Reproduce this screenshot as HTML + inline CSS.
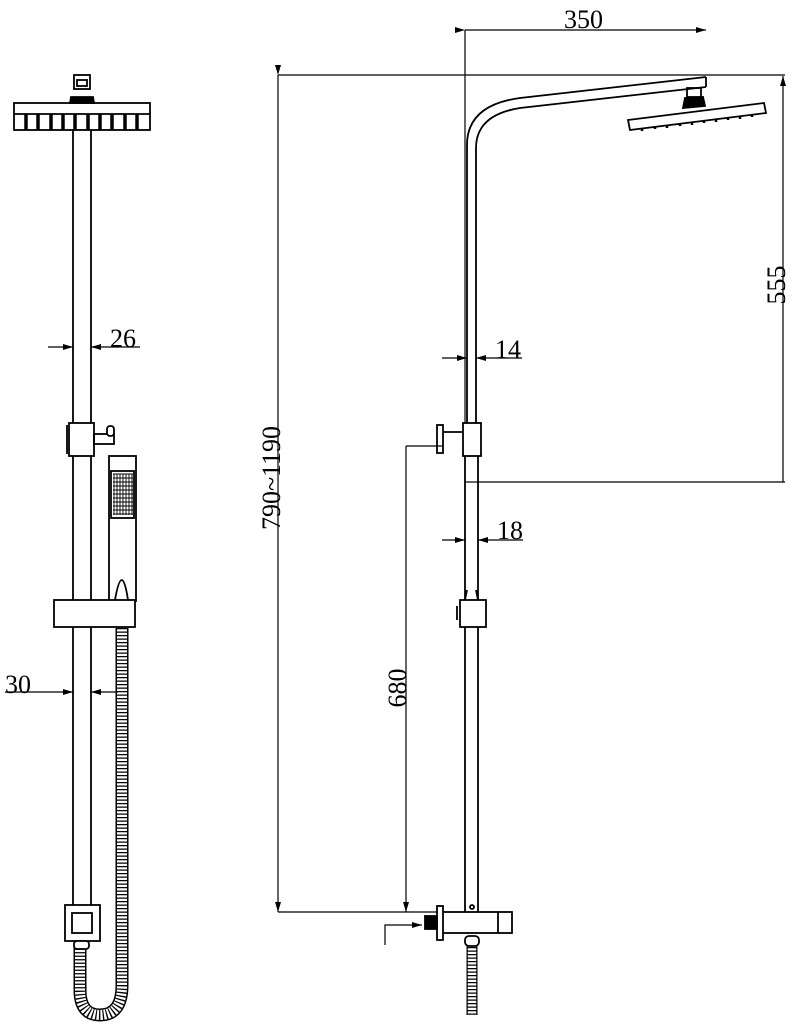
<!DOCTYPE html>
<html><head><style>html,body{margin:0;padding:0;background:#fff}svg{display:block}</style></head>
<body>
<svg width="793" height="1024" viewBox="0 0 793 1024" xmlns="http://www.w3.org/2000/svg" font-family="Liberation Serif, serif">
<defs>
<marker id="a" viewBox="0 0 10 6" refX="10" refY="3" markerWidth="10" markerHeight="6" orient="auto" markerUnits="userSpaceOnUse"><path d="M0,0 L10,3 L0,6z" fill="#000"/></marker>
</defs>
<g fill="none" stroke="#000" stroke-width="1.8">
<!-- LEFT VIEW -->
<rect x="74" y="75" width="16" height="14"/>
<rect x="77" y="80" width="10" height="6"/>
<path d="M70,103 L71,97 L93,97 L94,103z" fill="#000"/>
<rect x="14" y="103" width="136" height="27"/>
<line x1="14" y1="114" x2="150" y2="114"/>
<g stroke-width="3.5">
<line x1="26" y1="114" x2="26" y2="130"/><line x1="38" y1="114" x2="38" y2="130"/><line x1="51" y1="114" x2="51" y2="130"/><line x1="63" y1="114" x2="63" y2="130"/><line x1="75" y1="114" x2="75" y2="130"/><line x1="88" y1="114" x2="88" y2="130"/><line x1="100" y1="114" x2="100" y2="130"/><line x1="112" y1="114" x2="112" y2="130"/><line x1="125" y1="114" x2="125" y2="130"/><line x1="137" y1="114" x2="137" y2="130"/>
</g>
<line x1="73" y1="130" x2="73" y2="905"/><line x1="91" y1="130" x2="91" y2="905"/>
<rect x="69" y="423" width="25" height="33" fill="#fff"/>
<line x1="67" y1="425" x2="67" y2="454"/>
<rect x="94" y="434" width="20" height="10"/>
<rect x="107" y="426" width="7" height="10" rx="3" fill="#fff"/>
<rect x="109" y="456" width="27" height="145" fill="#fff"/>
<rect x="111" y="471" width="23" height="47" fill="#fff"/>
<g stroke-width="0.9">
<line x1="114" y1="474" x2="114" y2="515"/><line x1="117" y1="474" x2="117" y2="515"/><line x1="120" y1="474" x2="120" y2="515"/><line x1="123" y1="474" x2="123" y2="515"/><line x1="126" y1="474" x2="126" y2="515"/><line x1="129" y1="474" x2="129" y2="515"/><line x1="132" y1="474" x2="132" y2="515"/>
<line x1="113" y1="474" x2="133" y2="474"/><line x1="113" y1="478" x2="133" y2="478"/><line x1="113" y1="482" x2="133" y2="482"/><line x1="113" y1="486" x2="133" y2="486"/><line x1="113" y1="490" x2="133" y2="490"/><line x1="113" y1="494" x2="133" y2="494"/><line x1="113" y1="498" x2="133" y2="498"/><line x1="113" y1="502" x2="133" y2="502"/><line x1="113" y1="506" x2="133" y2="506"/><line x1="113" y1="510" x2="133" y2="510"/><line x1="113" y1="514" x2="133" y2="514"/>
</g>
<path d="M115,600 Q122,560 128,600"/>
<rect x="54" y="600" width="81" height="27" fill="#fff"/>
<path d="M122,628 L122,985 Q122,1015 100,1015 Q80,1015 80,990 L80,945" stroke-width="13"/>
<path d="M122,628 L122,985 Q122,1015 100,1015 Q80,1015 80,990 L80,945" stroke="#fff" stroke-width="10"/>
<path d="M122,628 L122,985 Q122,1015 100,1015 Q80,1015 80,990 L80,945" stroke-width="10" stroke-dasharray="1.3 2.2"/>
<rect x="65" y="905" width="35" height="36" fill="#fff"/>
<rect x="72" y="913" width="20" height="20"/>
<rect x="74" y="941" width="15" height="8" rx="3" fill="#fff"/>
<line x1="48" y1="347" x2="73" y2="347" marker-end="url(#a)" stroke-width="1.2"/>
<line x1="140" y1="347" x2="91" y2="347" marker-end="url(#a)" stroke-width="1.2"/>
<line x1="5" y1="692" x2="73" y2="692" marker-end="url(#a)" stroke-width="1.2"/>
<line x1="118" y1="692" x2="91" y2="692" marker-end="url(#a)" stroke-width="1.2"/>

<!-- RIGHT VIEW -->
<g stroke-width="1.2">
<line x1="465" y1="30" x2="465" y2="423"/>
<line x1="465" y1="30" x2="706" y2="30" marker-start="url(#a)" marker-end="url(#a)"/>
<line x1="278" y1="75" x2="785" y2="75"/>
<line x1="783" y1="482" x2="783" y2="76" marker-end="url(#a)"/>
<line x1="478" y1="482" x2="785" y2="482"/>
<line x1="278" y1="75" x2="278" y2="912" marker-start="url(#a)" marker-end="url(#a)"/>
<line x1="278" y1="912" x2="437" y2="912"/>
<line x1="406" y1="446" x2="406" y2="912" marker-end="url(#a)"/>
<line x1="406" y1="446" x2="443" y2="446"/>
<line x1="442" y1="358" x2="467" y2="358" marker-end="url(#a)"/>
<line x1="522" y1="358" x2="476" y2="358" marker-end="url(#a)"/>
<line x1="442" y1="540" x2="465" y2="540" marker-end="url(#a)"/>
<line x1="523" y1="540" x2="478" y2="540" marker-end="url(#a)"/>
<path d="M385,945 L385,925 L422,925" marker-end="url(#a)"/>
</g>
<path d="M467,423 L467,145 Q467,105 520,98 L706,77"/>
<path d="M476,423 L476,148 Q476,115 520,108 L706,87"/>
<path d="M706,77 L706,87"/>
<rect x="687" y="88" width="14" height="9"/>
<path d="M683,108 L685,98 L703,97 L705,106z" fill="#000"/>
<path d="M628,120 L764,103 L766,113 L630,130z" fill="#fff"/>
<g stroke-width="2.5"><line x1="642" y1="129" x2="642" y2="131"/><line x1="655" y1="127" x2="655" y2="129"/><line x1="667" y1="126" x2="667" y2="128"/><line x1="680" y1="124" x2="680" y2="126"/><line x1="692" y1="123" x2="692" y2="125"/><line x1="704" y1="121" x2="704" y2="123"/><line x1="716" y1="120" x2="716" y2="122"/><line x1="728" y1="118" x2="728" y2="120"/><line x1="740" y1="117" x2="740" y2="119"/><line x1="752" y1="115" x2="752" y2="117"/></g>
<rect x="463" y="423" width="18" height="33" fill="#fff"/>
<rect x="437" y="425" width="6" height="28"/>
<line x1="443" y1="432" x2="463" y2="432"/>
<line x1="465" y1="456" x2="465" y2="912"/><line x1="478" y1="456" x2="478" y2="912"/>
<line x1="465" y1="482" x2="478" y2="482" stroke-width="1.2"/>
<path d="M465,600 L467,590 M478,600 L476,590"/>
<rect x="460" y="600" width="26" height="27" fill="#fff"/>
<line x1="457" y1="606" x2="457" y2="620"/>
<circle cx="472" cy="907" r="2"/>
<rect x="442" y="912" width="70" height="21" fill="#fff"/>
<line x1="498" y1="912" x2="498" y2="933"/>
<rect x="437" y="906" width="6" height="34" fill="#fff"/>
<rect x="425" y="916" width="12" height="13" fill="#000"/>
<path d="M472,940 L472,1015" stroke-width="11"/>
<path d="M472,940 L472,1015" stroke="#fff" stroke-width="8.5"/>
<path d="M472,940 L472,1015" stroke-width="9" stroke-dasharray="1.3 2.2"/>
<rect x="465" y="936" width="14" height="10" rx="4" fill="#fff"/>
</g>
<g font-size="26" fill="#000">
<text x="110" y="347">26</text>
<text x="5" y="693">30</text>
<text x="564" y="28">350</text>
<text x="495" y="358">14</text>
<text x="497" y="539">18</text>
<text transform="translate(785,285) rotate(-90)" text-anchor="middle">555</text>
<text transform="translate(406,688) rotate(-90)" text-anchor="middle">680</text>
<text transform="translate(280,478) rotate(-90)" text-anchor="middle">790~1190</text>
</g>
</svg>
</body></html>
